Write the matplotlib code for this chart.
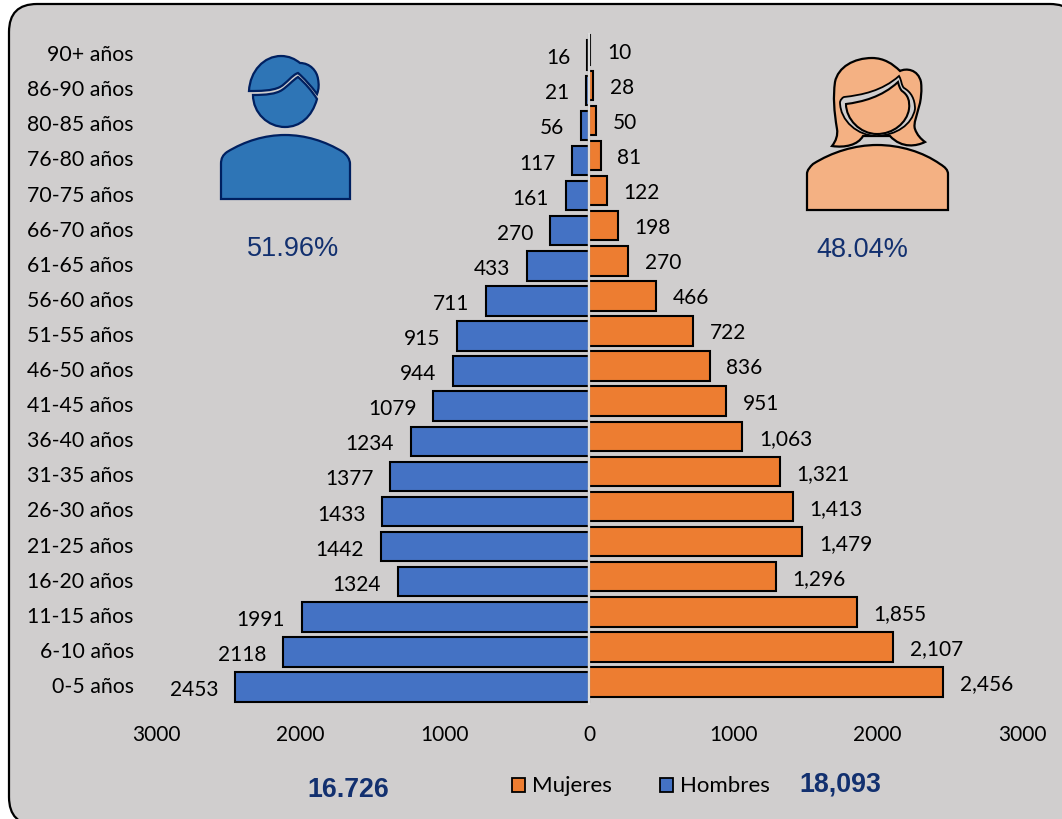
import matplotlib
matplotlib.use("Agg")
import matplotlib.pyplot as plt
from matplotlib.patches import PathPatch, FancyBboxPatch, Rectangle
from matplotlib.path import Path
from matplotlib.transforms import ScaledTranslation

edades = ["0-5 años", "6-10 años", "11-15 años", "16-20 años", "21-25 años",
          "26-30 años", "31-35 años", "36-40 años", "41-45 años", "46-50 años",
          "51-55 años", "56-60 años", "61-65 años", "66-70 años", "70-75 años",
          "76-80 años", "80-85 años", "86-90 años", "90+ años"]
hombres = [2453, 2118, 1991, 1324, 1442, 1433, 1377, 1234, 1079, 944,
           915, 711, 433, 270, 161, 117, 56, 21, 16]
mujeres = [2456, 2107, 1855, 1296, 1479, 1413, 1321, 1063, 951, 836,
           722, 466, 270, 198, 122, 81, 50, 28, 10]
ticks = [-3000, -2000, -1000, 0, 1000, 2000, 3000]
tick_labels = ["3000", "2000", "1000", "0", "1000", "2000", "3000"]

W, H = 1062, 820
GRIS = "#D0CECE"
AZUL = "#4472C4"
NARANJA = "#ED7D31"
MARINO = "#12306F"
plt.rcParams["font.family"] = ["Lato", "DejaVu Sans"]

fig = plt.figure(figsize=(W / 100, H / 100), dpi=100, facecolor="white")

# capa de fondo en pixeles
bg = fig.add_axes([0, 0, 1, 1], zorder=0)
bg.set_xlim(0, W)
bg.set_ylim(H, 0)
bg.axis("off")
bg.add_patch(FancyBboxPatch((9, 5), 1069, 821, boxstyle="round,pad=0,rounding_size=28",
                            facecolor=GRIS, edgecolor="black", linewidth=1.6))


def make_ax(y_center_0, zorder):
    # ejes con la escala de datos, colocados en pixeles
    pitch = 35.1
    x0, x1 = 589 - 433, 589 + 433
    top = y_center_0 - 18.5 * pitch
    bottom = y_center_0 + 0.5 * pitch
    ax = fig.add_axes([x0 / W, 1 - bottom / H, (x1 - x0) / W, (bottom - top) / H], zorder=zorder)
    ax.set_xlim(-3000, 3000)
    ax.set_ylim(-0.5, 18.5)
    ax.patch.set_alpha(0)
    for s in ax.spines.values():
        s.set_visible(False)
    return ax


ax_h = make_ax(688, 2)
ax_m = make_ax(683, 3)

ax_h.barh(range(len(edades)), [-v for v in hombres], height=0.84, color=AZUL,
          edgecolor="black", linewidth=1.5, label="Hombres")
ax_m.barh(range(len(edades)), mujeres, height=0.84, color=NARANJA,
          edgecolor="black", linewidth=1.5, label="Mujeres")

for i, v in enumerate(hombres):
    ax_h.annotate(str(v), (-v, i), xytext=(-12, -1.5), textcoords="offset points",
                  ha="right", va="center", fontsize=15, color="black")
for i, v in enumerate(mujeres):
    ax_m.annotate(f"{v:,}", (v, i), xytext=(12, -1), textcoords="offset points",
                  ha="left", va="center", fontsize=15, color="black")

ax_h.set_yticks(range(len(edades)))
ax_h.set_yticklabels(edades, fontsize=15.3)
ax_h.tick_params(axis="y", length=0, pad=16)
ax_h.set_xticks(ticks)
ax_h.set_xticklabels(tick_labels, fontsize=15)
ax_h.tick_params(axis="x", length=0, pad=14)
ax_m.set_xticks([])
ax_m.set_yticks([])
for lab in ax_h.get_yticklabels():
    lab.set_transform(lab.get_transform() + ScaledTranslation(0, 0.03, fig.dpi_scale_trans))

# linea del eje en el cero
ax_h.axvline(0, color="#DCDCDC", linewidth=1.6, zorder=5)
ax_m.axvline(0, color="#DCDCDC", linewidth=1.6, zorder=5)

# capa de iconos y textos
top = fig.add_axes([0, 0, 1, 1], zorder=4)
top.set_xlim(0, W)
top.set_ylim(H, 0)
top.axis("off")


def shape(start, segs, fc, ec, lw=1.6, z=5):
    # segs: un punto es linea recta, tres puntos una curva
    verts = [start]
    codes = [Path.MOVETO]
    for s in segs:
        verts.extend(s)
        codes.extend([Path.LINETO] if len(s) == 1 else [Path.CURVE4] * 3)
    verts.append(start)
    codes.append(Path.CLOSEPOLY)
    top.add_patch(PathPatch(Path(verts, codes), facecolor=fc, edgecolor=ec, linewidth=lw, zorder=z))


# hombre
AZ_ICON = "#2E75B6"
AZ_LINE = "#002060"
shape((221, 200), [[(221, 165)],
                   [(221, 159), (223, 156), (227, 153)],
                   [(245, 142), (265, 136), (285, 136)],
                   [(305, 136), (325, 142), (343, 153)],
                   [(347, 156), (350, 160), (350, 165)],
                   [(350, 200)]],
      AZ_ICON, AZ_LINE)
# cara
shape((253, 96), [[(266, 96), (276, 95), (282, 91)],
                  [(288, 87), (293, 81), (298, 78)],
                  [(305, 84), (312, 92), (317, 100)],
                  [(312, 118), (300, 128), (285, 128)],
                  [(268, 128), (253, 114), (253, 96)]],
      AZ_ICON, AZ_LINE)
# pelo
shape((249, 92), [[(250, 72), (264, 57), (281, 57)],
                  [(289, 57), (295, 60), (300, 64)],
                  [(310, 64), (317, 72), (318, 80)],
                  [(319, 85), (319, 90), (317, 95)],
                  [(311, 87), (304, 79), (298, 74)],
                  [(292, 76), (287, 84), (280, 88)],
                  [(272, 92), (260, 92), (249, 92)]],
      AZ_ICON, AZ_LINE)

# mujer
PIEL = "#F4B183"
# pelo
shape((832, 147), [[(836, 142), (838, 136), (837, 130)],
                   [(834, 112), (833, 98), (835, 83)],
                   [(838, 68), (854, 59), (872, 59)],
                   [(884, 59), (893, 65), (900, 72)],
                   [(906, 69), (918, 70), (921, 83)],
                   [(922, 92), (921, 98), (920, 104)],
                   [(917, 116), (913, 125), (915, 130)],
                   [(917, 136), (921, 140), (925, 143)],
                   [(917, 147), (902, 150), (890, 137)],
                   [(863, 137)],
                   [(858, 146), (845, 149), (832, 147)]],
      PIEL, "black")
# contorno claro de la cara
shape((840, 103), [[(841, 100), (842, 99), (844, 98)],
                   [(862, 96), (882, 92), (899, 77)],
                   [(902, 82), (901, 86), (904, 89)],
                   [(911, 93), (915, 100), (915, 110)],
                   [(912, 126), (896, 136), (877, 137)],
                   [(858, 137), (840, 122), (840, 103)]],
      GRIS, "black", lw=1.3, z=6)
# cara
shape((846, 105), [[(862, 103), (882, 98), (898, 83)],
                   [(899, 87), (900, 90), (902, 92)],
                   [(908, 96), (910, 102), (909, 110)],
                   [(907, 124), (893, 135), (877, 135)],
                   [(860, 135), (846, 120), (846, 105)]],
      PIEL, "black", lw=1.5, z=7)
# cuerpo
shape((807, 211), [[(807, 175)],
                   [(807, 171), (810, 168), (813, 165)],
                   [(832, 153), (855, 146), (877, 146)],
                   [(900, 146), (923, 153), (940, 165)],
                   [(945, 168), (948, 171), (948, 175)],
                   [(948, 211)]],
      PIEL, "black", z=8)

top.text(293, 249, "51.96%", fontsize=19.5, color=MARINO, family="Liberation Sans", ha="center", va="center")
top.text(862, 250, "48.04%", fontsize=19.5, color=MARINO, family="Liberation Sans", ha="center", va="center")
top.text(348, 790, "16.726", fontsize=19.3, color=MARINO, family="Liberation Sans",
         weight="bold", ha="center", va="center")
top.text(840, 785, "18,093", fontsize=19.3, color=MARINO, family="Liberation Sans",
         weight="bold", ha="center", va="center")

# leyenda
top.add_patch(Rectangle((512, 779), 13, 14, facecolor=NARANJA, edgecolor="black", linewidth=1.3))
top.text(532, 786, "Mujeres", fontsize=16, color="black", ha="left", va="center")
top.add_patch(Rectangle((660, 779), 13, 14, facecolor=AZUL, edgecolor="black", linewidth=1.3))
top.text(680, 786, "Hombres", fontsize=16, color="black", ha="left", va="center")

fig.savefig("out.png", dpi=100, facecolor="white")
